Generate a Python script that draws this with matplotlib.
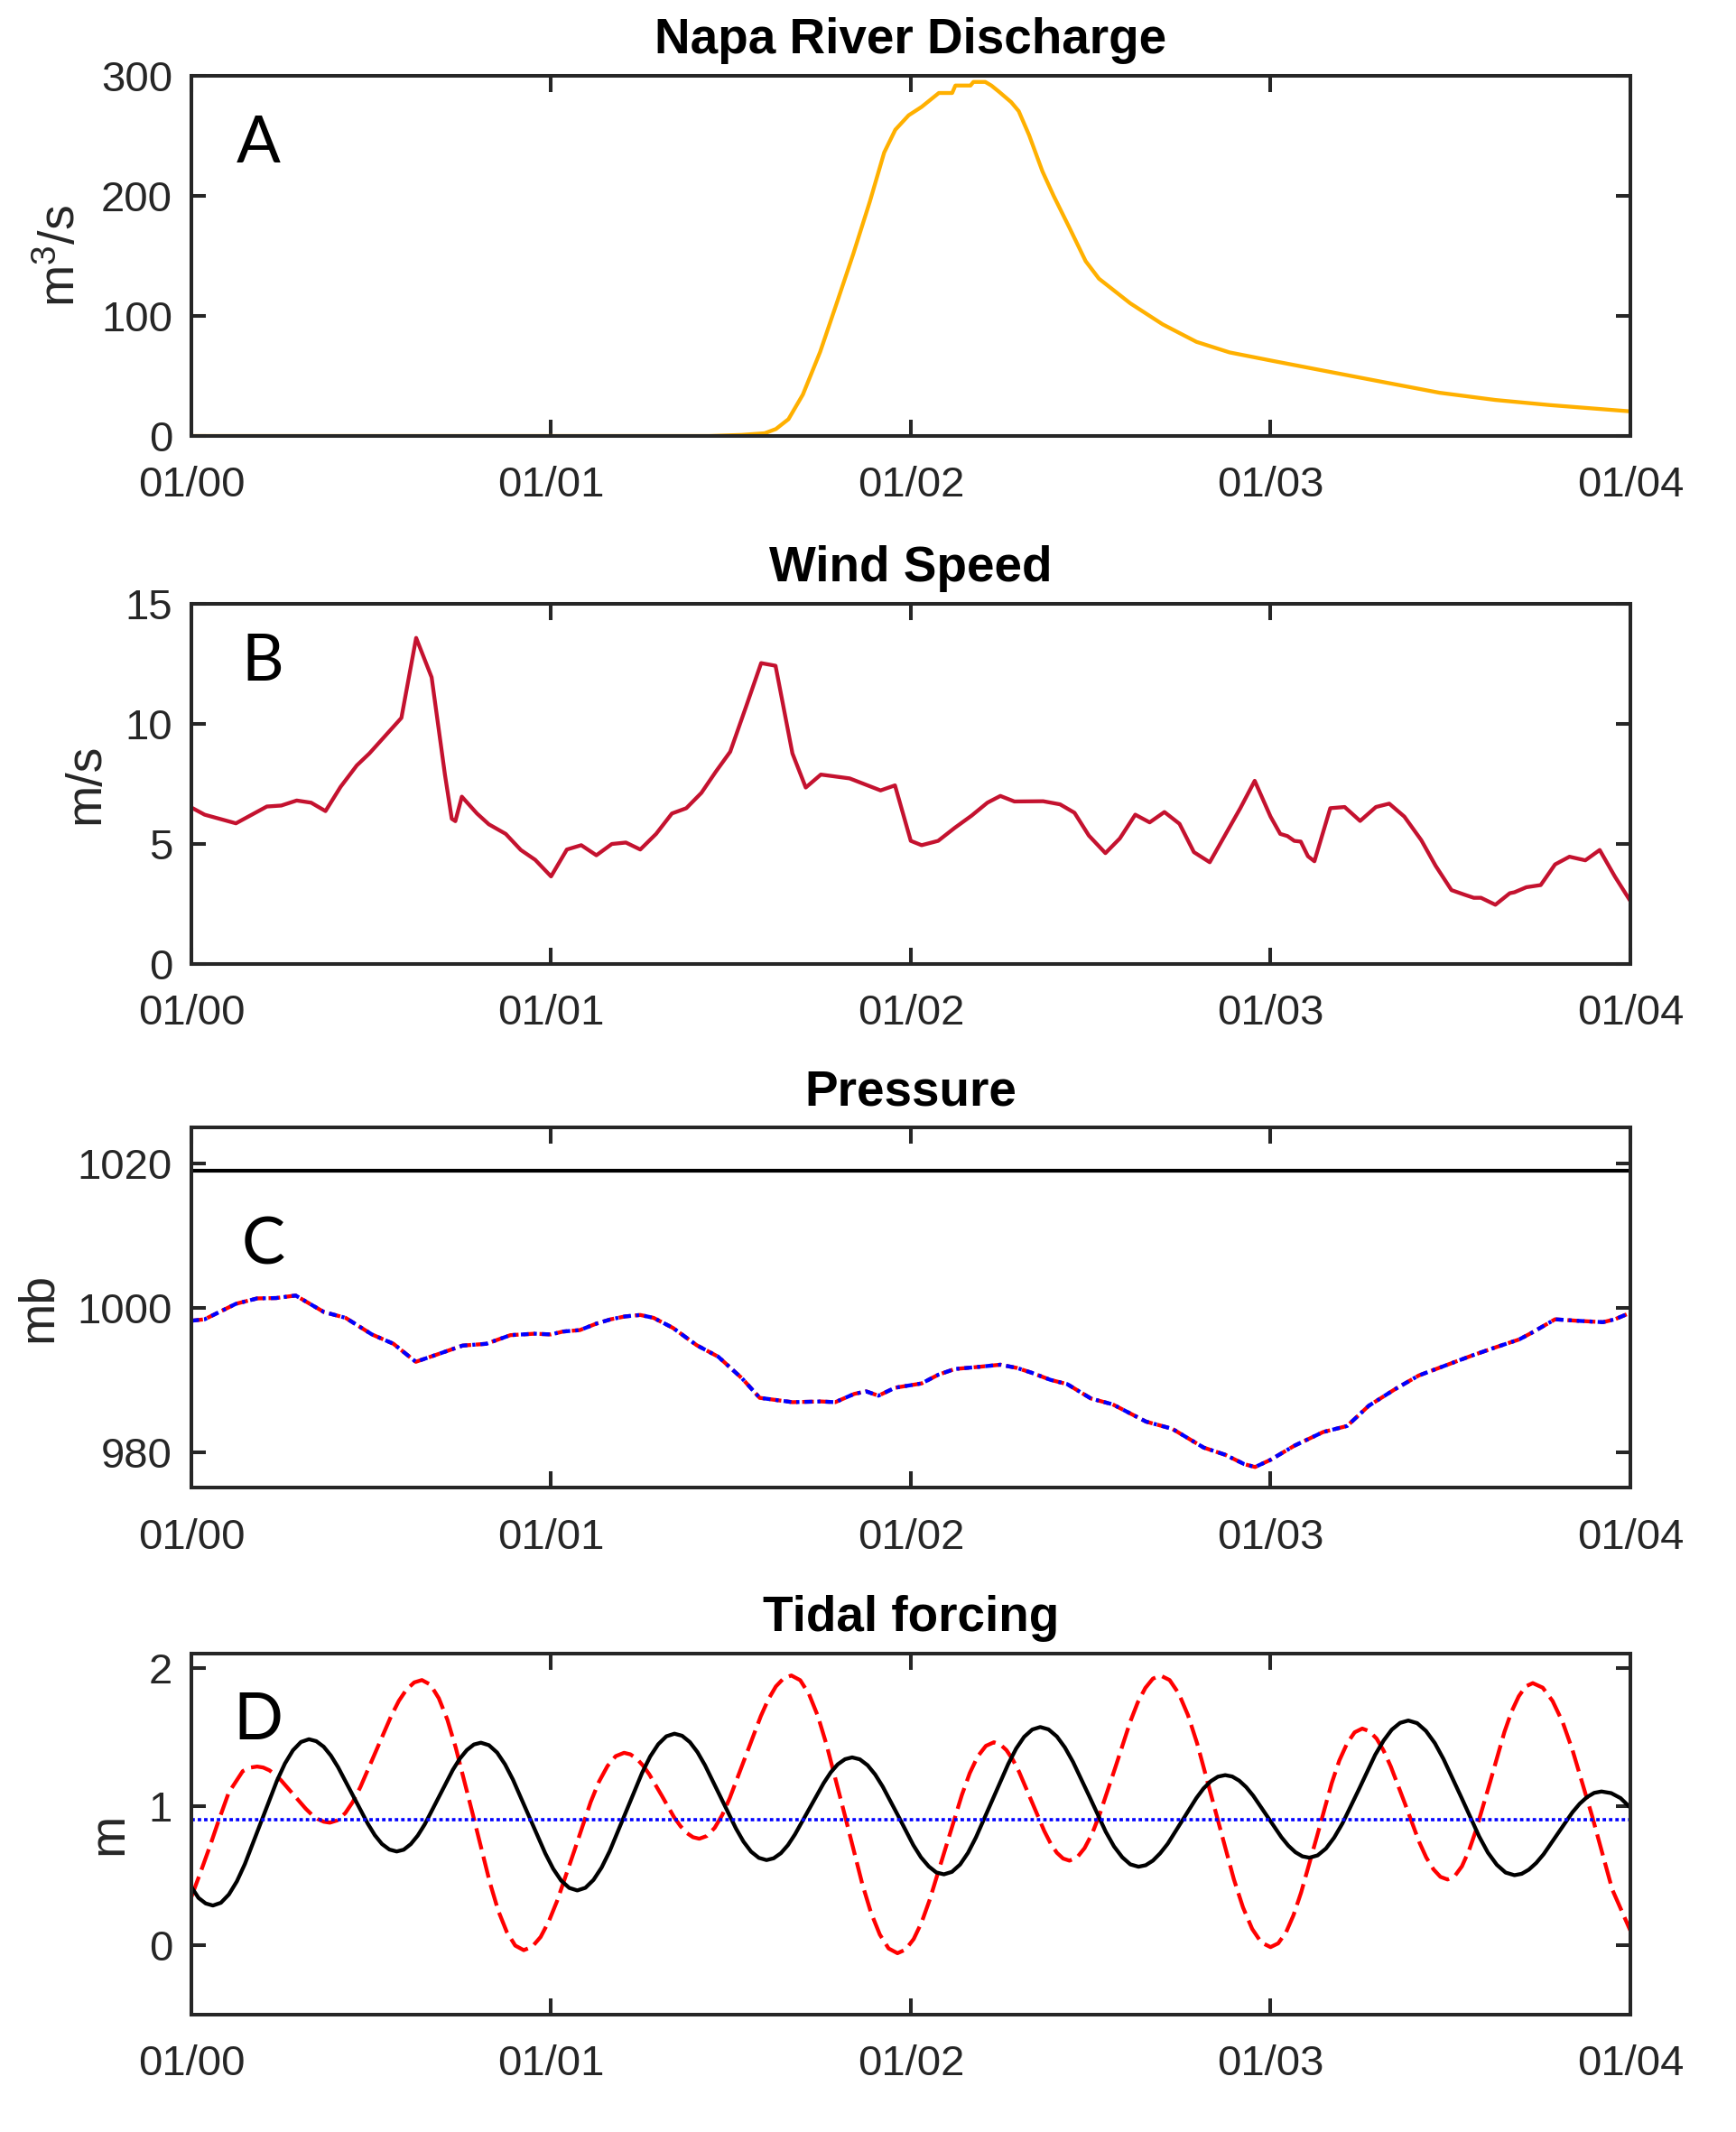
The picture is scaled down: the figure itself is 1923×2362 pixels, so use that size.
import matplotlib
matplotlib.use('Agg')
import matplotlib.pyplot as plt

plt.rcParams['font.family'] = ['Liberation Sans', 'DejaVu Sans']
plt.rcParams['mathtext.default'] = 'regular'

# x axis: days
day_ticks = [0, 1, 2, 3, 4]
day_labels = ['01/00', '01/01', '01/02', '01/03', '01/04']

# A: Napa river discharge (m3/s)
discharge_t = [0, 1.44, 1.53, 1.594, 1.625, 1.66, 1.70, 1.748, 1.794, 1.84, 1.886,
               1.926, 1.957, 1.994, 2.03, 2.078, 2.115, 2.124, 2.166, 2.174, 2.207,
               2.224, 2.245, 2.279, 2.3, 2.329, 2.366, 2.397, 2.44, 2.486, 2.523,
               2.61, 2.70, 2.794, 2.886, 3.01, 3.163, 3.317, 3.47, 3.625, 3.778, 4.0]
discharge_q = [0, 0, 0.9, 2.3, 5.8, 14, 34.5, 70, 110.5, 151.5, 195,
               236, 255, 267, 274, 285.6, 285.6, 291.8, 291.8, 294.8, 294.8,
               291.8, 286.7, 278, 270.5, 250.4, 220.3, 200, 174, 145.6, 131,
               110.5, 93, 78.4, 69.6, 62.3, 53.5, 44.7, 36, 30, 25.7, 20.5]

# B: wind speed (m/s)
wind_t = [0, .037, .124, .21, .25, .293, .333, .373, .415, .46,
          .495, .584, .625, .668, .705, .724, .734, .752, .794, .827,
          .874, .916, .956, 1.0, 1.044, 1.084, 1.126, 1.169, 1.208, 1.248,
          1.292, 1.336, 1.376, 1.418, 1.458, 1.498, 1.544, 1.584, 1.624, 1.671,
          1.708, 1.75, 1.83, 1.916, 1.956, 2.0, 2.03, 2.076, 2.122, 2.169,
          2.213, 2.249, 2.288, 2.368, 2.415, 2.455, 2.495, 2.541, 2.581, 2.624,
          2.664, 2.705, 2.747, 2.787, 2.831, 2.874, 2.916, 2.956, 3.0, 3.027,
          3.047, 3.066, 3.084, 3.104, 3.122, 3.166, 3.206, 3.249, 3.293, 3.33,
          3.372, 3.419, 3.459, 3.503, 3.539, 3.565, 3.585, 3.625, 3.665, 3.678,
          3.711, 3.751, 3.791, 3.831, 3.875, 3.915, 3.957, 4.0]
wind_v = [6.52, 6.22, 5.86, 6.56, 6.6, 6.81, 6.72, 6.37, 7.38, 8.27,
          8.77, 10.25, 13.58, 11.94, 7.89, 6.05, 5.95, 6.97, 6.27, 5.82,
          5.42, 4.75, 4.34, 3.65, 4.77, 4.95, 4.53, 5.0, 5.06, 4.77,
          5.42, 6.27, 6.49, 7.13, 8.01, 8.84, 10.8, 12.53, 12.42, 8.77,
          7.35, 7.89, 7.73, 7.23, 7.44, 5.13, 4.95, 5.13, 5.67, 6.18,
          6.72, 7.0, 6.77, 6.78, 6.65, 6.3, 5.35, 4.62, 5.23, 6.22,
          5.9, 6.33, 5.84, 4.66, 4.24, 5.38, 6.49, 7.63, 6.14, 5.42,
          5.33, 5.13, 5.1, 4.49, 4.28, 6.49, 6.54, 5.96, 6.54, 6.68,
          6.14, 5.16, 4.09, 3.08, 2.89, 2.76, 2.76, 2.47, 2.95, 2.99,
          3.2, 3.29, 4.15, 4.47, 4.32, 4.75, 3.65, 2.63]

# C: pressure (mb), two overlapping series
press_t = [0, .037, .124, .183, .236, .29, .369, .429, .502, .562,
           .624, .688, .754, .82, .887, .954, 1.0, 1.033, 1.08, 1.126,
           1.166, 1.206, 1.248, 1.285, 1.339, 1.405, 1.465, 1.531, 1.58, 1.671,
           1.75, 1.79, 1.843, 1.876, 1.91, 1.956, 2.03, 2.076, 2.122, 2.189,
           2.249, 2.295, 2.335, 2.388, 2.435, 2.501, 2.561, 2.654, 2.727, 2.814,
           2.874, 2.927, 2.957, 3.0, 3.066, 3.146, 3.213, 3.273, 3.346, 3.412,
           3.492, 3.559, 3.625, 3.691, 3.725, 3.791, 3.851, 3.924, 3.957, 4.0]
press_red = [998.2, 998.4, 1000.55, 1001.3, 1001.35, 1001.7, 999.4, 998.6, 996.3, 995.0,
             992.5, 993.6, 994.75, 995.0, 996.2, 996.4, 996.3, 996.7, 996.9, 997.8,
             998.4, 998.8, 999.0, 998.6, 997.2, 994.8, 993.2, 990.2, 987.5, 986.9,
             987.0, 986.9, 988.05, 988.4, 987.8, 988.9, 989.5, 990.7, 991.5, 991.8,
             992.1, 991.65, 991.0, 990.0, 989.4, 987.4, 986.6, 984.2, 983.2, 980.6,
             979.6, 978.3, 977.9, 978.9, 980.85, 982.75, 983.6, 986.4, 988.7, 990.6,
             992.1, 993.35, 994.5, 995.6, 996.5, 998.4, 998.2, 998.0, 998.4, 999.3]
press_blue = list(press_red)
press_ref = 1019.0

# D: tidal forcing (m)
tide_t = [0, .02, .04, .06,
          .1045, .149, .1935, .238, .2825, .327,
          .368, .408, .449, .490, .530, .571,
          .610, .649, .688, .727, .766, .805,
          .850, .894, .939, .984, 1.028, 1.073,
          1.118, 1.163, 1.208, 1.253, 1.298, 1.343,
          1.386, 1.428, 1.471, 1.514, 1.556, 1.599,
          1.639, 1.678, 1.718, 1.758, 1.797, 1.837,
          1.880, 1.922, 1.965, 2.007, 2.050, 2.092,
          2.137, 2.181, 2.226, 2.271, 2.315, 2.36,
          2.406, 2.451, 2.497, 2.542, 2.588, 2.633,
          2.673, 2.714, 2.754, 2.794, 2.834, 2.874,
          2.913, 2.952, 2.991, 3.030, 3.069, 3.108,
          3.154, 3.200, 3.246, 3.291, 3.337, 3.383,
          3.432, 3.481, 3.531, 3.580, 3.629, 3.678,
          3.718, 3.759, 3.799, 3.839, 3.880, 3.92,
          3.947, 3.973, 4.0]
tide_black = [.42, .34, .30, .285,
              .365, .585, .885, 1.185, 1.405, 1.485,
              1.431, 1.283, 1.08, .878, .729, .675,
              .728, .871, 1.068, 1.264, 1.407, 1.46,
              1.389, 1.194, .927, .661, .465, .394,
              .47, .677, .96, 1.242, 1.449, 1.525,
              1.464, 1.297, 1.069, .841, .674, .613,
              .663, .798, .984, 1.169, 1.304, 1.354,
              1.297, 1.143, .932, .721, .567, .51,
              .581, .776, 1.042, 1.307, 1.502, 1.573,
              1.505, 1.321, 1.069, .817, .633, .565,
              .609, .73, .896, 1.061, 1.182, 1.226,
              1.186, 1.077, .928, .779, .67, .63,
              .696, .878, 1.125, 1.373, 1.554, 1.62,
              1.545, 1.341, 1.062, .783, .579, .504,
              .544, .655, .806, .957, 1.068, 1.108,
              1.096, 1.06, .992]
# extra readings near the turning points of the black curve
tide_t_extra = [.0823, .1268, .2603, .3048,
                .3473, .3880, .5100, .5507,
                .5905, .6295, .7465, .7855,
                .8273, .8720, 1.0060, 1.0507,
                1.0955, 1.1405, 1.2755, 1.3205,
                1.3643, 1.4070, 1.5350, 1.5777,
                1.6188, 1.6585, 1.7775, 1.8172,
                1.8583, 1.9008, 2.0283, 2.0708,
                2.1143, 2.1590, 2.2930, 2.3377,
                2.3828, 2.4283, 2.5648, 2.6103,
                2.6531, 2.6932, 2.8138, 2.8539,
                2.8935, 2.9325, 3.0495, 3.0885,
                3.1309, 3.1768, 3.3143, 3.3601,
                3.4076, 3.4567, 3.6042, 3.6534,
                3.6982, 3.7385, 3.8595, 3.8998]
tide_black_extra = [.305, .460, 1.310, 1.465,
                    1.471, 1.367, .793, .689,
                    .688, .790, 1.345, 1.447,
                    1.442, 1.304, .550, .412,
                    .413, .559, 1.360, 1.506,
                    1.510, 1.392, .746, .629,
                    .626, .721, 1.246, 1.341,
                    1.340, 1.231, .633, .524,
                    .528, .665, 1.418, 1.555,
                    1.556, 1.426, .712, .582,
                    .576, .662, 1.130, 1.215,
                    1.216, 1.139, .717, .640,
                    .647, .775, 1.475, 1.603,
                    1.601, 1.457, .667, .523,
                    .514, .592, 1.020, 1.098]

red_t = [0, .025, .05, .075, .104, .143, .183,
         .217, .250, .284, .318, .351, .385,
         .428, .470, .513, .556, .598, .641,
         .688, .735, .783, .830, .877, .924,
         .971, 1.017, 1.064, 1.110, 1.157, 1.203,
         1.238, 1.273, 1.308, 1.342, 1.377, 1.412,
         1.455, 1.497, 1.540, 1.583, 1.625, 1.668,
         1.717, 1.766, 1.816, 1.865, 1.914, 1.963,
         2.008, 2.052, 2.097, 2.142, 2.186, 2.231,
         2.266, 2.301, 2.336, 2.371, 2.406, 2.441,
         2.483, 2.525, 2.568, 2.610, 2.652, 2.694,
         2.745, 2.796, 2.847, 2.898, 2.949, 3.0,
         3.043, 3.085, 3.128, 3.170, 3.213, 3.255,
         3.295, 3.334, 3.374, 3.413, 3.453, 3.492,
         3.532, 3.571, 3.611, 3.650, 3.690, 3.729,
         3.784, 3.839, 3.894, 3.950, 4.0]
tide_red = [.346, .52, .70, .89, 1.10, 1.255, 1.288,
            1.261, 1.187, 1.086, .984, .910, .883,
            .952, 1.140, 1.398, 1.655, 1.843, 1.912,
            1.781, 1.425, .938, .450, .094, -.037,
            .058, .319, .675, 1.031, 1.292, 1.387,
            1.345, 1.232, 1.077, .922, .809, .767,
            .846, 1.062, 1.356, 1.651, 1.866, 1.945,
            1.811, 1.444, .943, .442, .075, -.059,
            .043, .322, .702, 1.083, 1.361, 1.463,
            1.406, 1.250, 1.036, .823, .666, .609,
            .699, .943, 1.277, 1.611, 1.855, 1.945,
            1.814, 1.455, .965, .475, .116, -.015,
            .091, .379, .774, 1.168, 1.456, 1.562,
            1.489, 1.290, 1.018, .745, .546, .473,
            .568, .827, 1.182, 1.536, 1.795, 1.89,
            1.761, 1.41, .93, .40, .105]
red_t_extra = [.163,
               .1998, .2335, .3345, .3682,
               .4063, .4490, .5770, .6197,
               .6646, .7117, .8532, .9004,
               .9473, .9938, 1.1333, 1.1798,
               1.2204, 1.2553, 1.3598, 1.3946,
               1.4333, 1.4760, 1.6040, 1.6467,
               1.6926, 1.7417, 1.8893, 1.9384,
               1.9853, 2.0300, 2.1640, 2.2087,
               2.2485, 2.2835, 2.3885, 2.4235,
               2.4621, 2.5042, 2.6308, 2.6729,
               2.7195, 2.7705, 2.9235, 2.9745,
               3.0213, 3.0638, 3.1913, 3.2338,
               3.2748, 3.3143, 3.4328, 3.4723,
               3.5118, 3.5513, 3.6698, 3.7093,
               3.7566, 3.8118]
tide_red_extra = [1.28,
                  1.281, 1.229, .942, .890,
                  .900, 1.033, 1.762, 1.895,
                  1.879, 1.627, .248, -.004,
                  -.013, .171, 1.179, 1.363,
                  1.376, 1.296, .858, .778,
                  .787, .939, 1.773, 1.925,
                  1.911, 1.652, .234, -.025,
                  -.033, .163, 1.241, 1.437,
                  1.448, 1.338, .734, .624,
                  .632, .804, 1.750, 1.922,
                  1.912, 1.659, .271, .018,
                  .012, .215, 1.332, 1.535,
                  1.543, 1.403, .632, .492,
                  .497, .680, 1.683, 1.866,
                  1.857, 1.61]
mean_level = 0.906

AX_COL = '#262626'
LW = 3.1


def merged(t1, v1, t2, v2):
    pts = sorted(zip(list(t1) + list(t2), list(v1) + list(v2)))
    return [p[0] for p in pts], [p[1] for p in pts]


fig = plt.figure(figsize=(19.23, 23.62), dpi=100)
left, width, height = 0.1102, 0.8289, 0.169
bottoms = [0.7955, 0.5478, 0.3021, 0.0552]
axs = [fig.add_axes([left, b, width, height]) for b in bottoms]


def style(ax, title, ylabel, yticks, ylim, letter, lx, ly):
    ax.set_xlim(0, 4)
    ax.set_ylim(*ylim)
    ax.set_xticks(day_ticks)
    ax.set_xticklabels(day_labels)
    ax.set_yticks(yticks)
    ax.tick_params(direction='in', top=True, right=True, width=2.9,
                   colors=AX_COL, labelsize=34)
    ax.tick_params(axis='x', length=13, pad=24)
    ax.tick_params(axis='y', length=11.5, pad=15)
    for s in ax.spines.values():
        s.set_linewidth(2.9)
        s.set_color(AX_COL)
    ax.set_title(title, fontsize=39.5, fontweight='bold', pad=18)
    ax.set_ylabel(ylabel, fontsize=40, color=AX_COL, labelpad=12.5)
    ax.text(lx, ly, letter, transform=ax.transAxes, fontsize=52,
            family=['Lato', 'DejaVu Sans'], va='baseline', ha='left')


ax = axs[0]
ax.plot(discharge_t, discharge_q, color='#FFB000', lw=LW)
style(ax, 'Napa River Discharge', 'm$^3$/s', [0, 100, 200, 300], (0, 300), 'A', 0.031, 0.759)

ax = axs[1]
ax.plot(wind_t, wind_v, color='#C4122F', lw=LW)
style(ax, 'Wind Speed', 'm/s', [0, 5, 10, 15], (0, 15), 'B', 0.035, 0.786)

ax = axs[2]
ax.axhline(press_ref, color='black', lw=3)
ax.plot(press_t, press_red, color='red', lw=LW, dashes=(3, 1.2))
ax.plot(press_t, press_blue, color='blue', lw=LW, dashes=(2.0, 1.3, 0.8, 1.3))
style(ax, 'Pressure', 'mb', [980, 1000, 1020], (975, 1025), 'C', 0.035, 0.62)

ax = axs[3]
rt, rv = merged(red_t, tide_red, red_t_extra, tide_red_extra)
bt, bv = merged(tide_t, tide_black, tide_t_extra, tide_black_extra)
ax.plot(rt, rv, color='red', lw=LW, dashes=(5.6, 1.9))
ax.plot(bt, bv, color='black', lw=LW)
ax.axhline(mean_level, color='blue', lw=2.6, dashes=(1.05, 0.9))
style(ax, 'Tidal forcing', 'm', [0, 1, 2], (-0.5, 2.1), 'D', 0.029, 0.762)

fig.savefig('out.png', dpi=100)
